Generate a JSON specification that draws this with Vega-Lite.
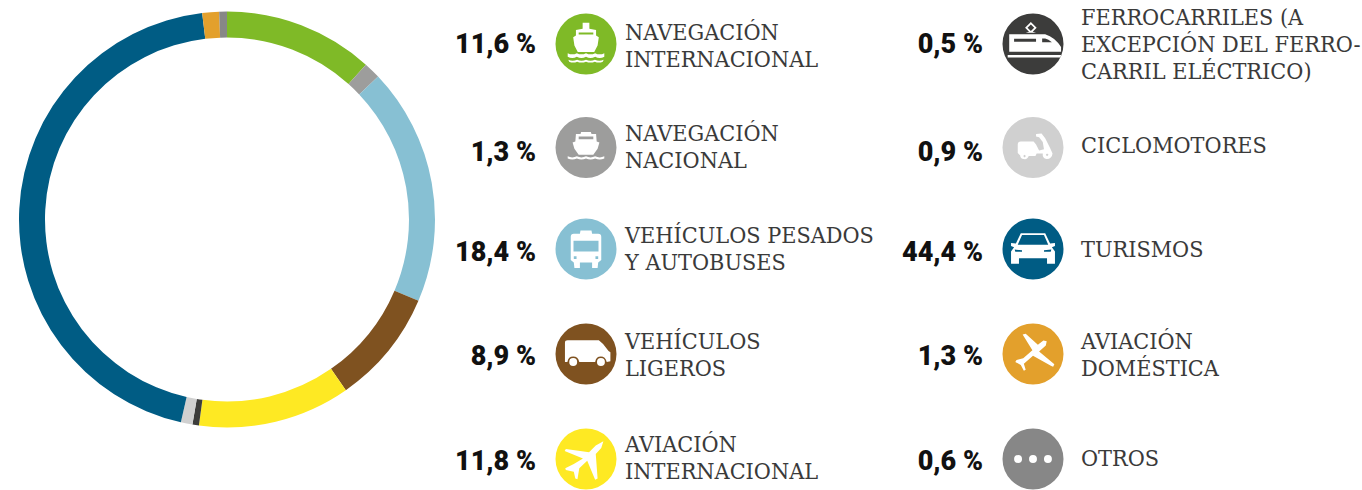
{
"$schema":"https://vega.github.io/schema/vega-lite/v6.json",
"padding":0,"spacing":0,"bounds":"flush","background":"white",
"config":{"view":{"stroke":null},"concat":{"spacing":0}},
"datasets":{"d":[
{"cat":"Navegación internacional","val":11.6,"orden":1,"pct":"11,6 %","label":"NAVEGACIÓN\nINTERNACIONAL","col":1,"fila":1},
{"cat":"Navegación nacional","val":1.3,"orden":2,"pct":"1,3 %","label":"NAVEGACIÓN\nNACIONAL","col":1,"fila":2},
{"cat":"Vehículos pesados","val":18.4,"orden":3,"pct":"18,4 %","label":"VEHÍCULOS PESADOS\nY AUTOBUSES","col":1,"fila":3},
{"cat":"Vehículos ligeros","val":8.9,"orden":4,"pct":"8,9 %","label":"VEHÍCULOS\nLIGEROS","col":1,"fila":4},
{"cat":"Aviación internacional","val":11.8,"orden":5,"pct":"11,8 %","label":"AVIACIÓN\nINTERNACIONAL","col":1,"fila":5},
{"cat":"Ferrocarriles","val":0.5,"orden":6,"pct":"0,5 %","label":"FERROCARRILES (A\nEXCEPCIÓN DEL FERRO-\nCARRIL ELÉCTRICO)","col":2,"fila":1},
{"cat":"Ciclomotores","val":0.9,"orden":7,"pct":"0,9 %","label":"CICLOMOTORES","col":2,"fila":2},
{"cat":"Turismos","val":44.4,"orden":8,"pct":"44,4 %","label":"TURISMOS","col":2,"fila":3},
{"cat":"Aviación doméstica","val":1.3,"orden":9,"pct":"1,3 %","label":"AVIACIÓN\nDOMÉSTICA","col":2,"fila":4},
{"cat":"Otros","val":0.6,"orden":10,"pct":"0,6 %","label":"OTROS","col":2,"fila":5}
]},
"hconcat":[
{"width":454,"height":439,"data":{"name":"d"},
 "mark":{"type":"arc","radius":208,"radius2":182},
 "encoding":{
  "theta":{"field":"val","type":"quantitative","stack":true},
  "order":{"field":"orden","type":"quantitative"},
  "color":{"field":"cat","type":"nominal","legend":null,"sort":null,
   "scale":{"domain":["Navegación internacional","Navegación nacional","Vehículos pesados","Vehículos ligeros","Aviación internacional","Ferrocarriles","Ciclomotores","Turismos","Aviación doméstica","Otros"],
   "range":["#7fba27","#9d9d9c","#87c0d3","#7f5220","#fee923","#3c3c3b","#d0d0d0","#005c84","#e3a02c","#878787"]}}
 }},
{"width":908,"height":490,"data":{"name":"d"},
 "resolve":{"scale":{"y":"independent","x":"shared"}},
 "encoding":{"x":{"field":"col","type":"quantitative","axis":null,"scale":{"domain":[1,2],"range":[132,579],"zero":false,"nice":false}}},
 "layer":[
 {"mark":{"type":"point","filled":true,"opacity":1,"shape":"circle","size":3721},
  "encoding":{
   "y":{"field":"fila","type":"quantitative","axis":null,"scale":{"domain":[1,2,3,4,5],"range":[44,147.5,249,354,459],"zero":false,"nice":false}},
   "color":{"field":"cat","type":"nominal","legend":null,
   "scale":{"domain":["Navegación internacional","Navegación nacional","Vehículos pesados","Vehículos ligeros","Aviación internacional","Ferrocarriles","Ciclomotores","Turismos","Aviación doméstica","Otros"],
   "range":["#7fba27","#9d9d9c","#87c0d3","#7f5220","#fee923","#3c3c3b","#d0d0d0","#005c84","#e3a02c","#878787"]}}}},
 {"mark":{"type":"point","filled":true,"opacity":1,"size":3721,"color":"white","strokeWidth":0},
  "encoding":{
   "y":{"field":"fila","type":"quantitative","axis":null,"scale":{"domain":[1,2,3,4,5],"range":[44,147.5,249,354,459],"zero":false,"nice":false}},
   "shape":{"field":"cat","type":"nominal","legend":null,
   "scale":{"domain":["Navegación internacional","Navegación nacional","Vehículos pesados","Vehículos ligeros","Aviación internacional","Ferrocarriles","Ciclomotores","Turismos","Aviación doméstica","Otros"],
   "range":[
"M-0.11 -0.7 L0.11 -0.7 L0.11 -0.5 L0.33 -0.46 L0.33 -0.28 L0.42 -0.22 L0.38 0.05 L0.27 0.26 L-0.27 0.26 L-0.38 0.05 L-0.42 -0.22 L-0.33 -0.28 L-0.33 -0.46 L-0.11 -0.5 Z M-0.24 -0.38 L-0.24 -0.31 L0.24 -0.31 L0.24 -0.38 Z M-0.6 0.3 Q-0.45 0.38 -0.3 0.3 Q-0.15 0.38 0 0.3 Q0.15 0.38 0.3 0.3 Q0.45 0.38 0.6 0.3 L0.6 0.42 Q0.45 0.5 0.3 0.42 Q0.15 0.5 0 0.42 Q-0.15 0.5 -0.3 0.42 Q-0.45 0.5 -0.6 0.42 Z M-0.58 0.52 Q-0.44 0.58 -0.29 0.52 Q-0.15 0.58 0 0.52 Q0.15 0.58 0.29 0.52 Q0.44 0.58 0.58 0.52 L0.55 0.58 Q0.42 0.64 0.29 0.58 Q0.15 0.64 0 0.58 Q-0.15 0.64 -0.29 0.58 Q-0.42 0.64 -0.55 0.58 Z",
"M-0.16 -0.51 L0.16 -0.51 L0.18 -0.44 L0.33 -0.44 L0.35 -0.2 L0.44 -0.16 L0.38 0.04 L0.24 0.24 L-0.24 0.24 L-0.38 0.04 L-0.44 -0.16 L-0.35 -0.2 L-0.33 -0.44 L-0.18 -0.44 Z M-0.24 -0.36 L-0.24 -0.27 L0.24 -0.27 L0.24 -0.36 Z M-0.6 0.29 Q-0.45 0.36 -0.3 0.29 Q-0.15 0.36 0 0.29 Q0.15 0.36 0.3 0.29 Q0.45 0.36 0.6 0.29 L0.6 0.36 Q0.45 0.43 0.3 0.36 Q0.15 0.43 0 0.36 Q-0.15 0.43 -0.3 0.36 Q-0.45 0.43 -0.6 0.36 Z",
"M-0.18 -0.61 L0.18 -0.61 L0.2 -0.5 L0.4 -0.5 Q0.5 -0.5 0.5 -0.4 L0.5 0.36 L0.4 0.44 L0.38 0.62 L0.2 0.62 L0.2 0.44 L-0.2 0.44 L-0.2 0.62 L-0.38 0.62 L-0.4 0.44 L-0.5 0.36 L-0.5 -0.4 Q-0.5 -0.5 -0.4 -0.5 L-0.2 -0.5 Z M-0.41 -0.27 L-0.41 0.08 L0.41 0.08 L0.41 -0.27 Z M-0.4 0.24 L-0.4 0.33 L-0.31 0.33 L-0.31 0.24 Z M0.31 0.24 L0.31 0.33 L0.4 0.33 L0.4 0.24 Z",
"M-0.6 -0.45 L0.42 -0.45 L0.56 -0.33 L0.74 -0.1 L0.8 -0.06 L0.8 0.24 L0.68 0.26 Q0.63 0.08 0.49 0.08 Q0.33 0.08 0.3 0.26 L-0.22 0.26 Q-0.26 0.08 -0.42 0.08 Q-0.58 0.08 -0.61 0.26 L-0.69 0.26 L-0.69 -0.37 Q-0.69 -0.45 -0.6 -0.45 Z M-0.42 0.13 Q-0.29 0.13 -0.29 0.26 Q-0.29 0.39 -0.42 0.39 Q-0.55 0.39 -0.55 0.26 Q-0.55 0.13 -0.42 0.13 Z M0.49 0.13 Q0.62 0.13 0.62 0.26 Q0.62 0.39 0.49 0.39 Q0.36 0.39 0.36 0.26 Q0.36 0.13 0.49 0.13 Z",
"M0.57 -0.58 L0.5 -0.36 L0.32 -0.16 L0.38 0.64 L0.3 0.68 L0.04 0.06 L-0.22 0.3 L-0.28 0.66 L-0.35 0.64 L-0.4 0.42 L-0.66 0.36 L-0.68 0.3 L-0.4 0.16 L-0.1 -0.02 L-0.7 -0.26 L-0.66 -0.33 L0.1 -0.22 L0.32 -0.44 Z",
"M-0.78 -0.32 L0.4 -0.32 Q0.72 -0.22 0.92 0.1 L0.92 0.25 L-0.78 0.25 Z M-0.62 -0.17 L-0.62 -0.07 L0.1 -0.07 L0.1 -0.17 Z M0.3 -0.18 L0.3 -0.06 L0.62 -0.06 Q0.5 -0.16 0.4 -0.18 Z M-0.83 0.36 L0.92 0.36 L0.9 0.44 L-0.83 0.44 Z M-0.07 -0.72 L0.12 -0.53 L-0.01 -0.4 L0.1 -0.37 L-0.24 -0.37 L-0.13 -0.4 L-0.26 -0.53 Z M-0.07 -0.64 L-0.18 -0.53 L-0.07 -0.43 L0.04 -0.53 Z",
"M0.1 -0.44 L0.28 -0.46 L0.4 -0.3 L0.56 0.02 L0.64 0.2 Q0.62 0.38 0.45 0.38 Q0.3 0.36 0.32 0.2 L0.12 0.2 L0.08 0.28 L-0.14 0.28 Q-0.18 0.4 -0.3 0.38 Q-0.42 0.36 -0.42 0.26 L-0.5 0.18 L-0.5 -0.1 Q-0.5 -0.2 -0.4 -0.2 L0.02 -0.2 L0.1 -0.1 L0.2 0.1 L0.36 0.06 L0.32 -0.18 L0.2 -0.34 L0.1 -0.36 Z M0.46 0.2 L0.42 0.24 L0.46 0.29 L0.51 0.24 Z M-0.28 0.24 L-0.32 0.28 L-0.28 0.33 L-0.23 0.28 Z",
"M-0.4 -0.52 L0.4 -0.52 L0.56 -0.18 L0.72 -0.2 L0.72 -0.1 L0.62 -0.06 L0.72 0.08 L0.72 0.48 L0.46 0.48 L0.46 0.3 L-0.46 0.3 L-0.46 0.48 L-0.72 0.48 L-0.72 0.08 L-0.62 -0.06 L-0.72 -0.1 L-0.72 -0.2 L-0.56 -0.18 Z M-0.36 -0.46 L-0.5 -0.14 L0.5 -0.14 L0.36 -0.46 Z M-0.6 0.02 L-0.58 0.09 L-0.36 0.09 L-0.36 0.04 Z M0.6 0.02 L0.36 0.04 L0.36 0.09 L0.58 0.09 Z",
"M0.45 -0.42 L0.42 -0.28 L0.2 -0.08 L0.7 0.34 L0.66 0.42 L0.6 0.39 L0 0.06 L-0.3 0.32 L-0.24 0.52 L-0.3 0.55 L-0.4 0.36 L-0.58 0.26 L-0.54 0.2 L-0.32 0.14 L-0.02 -0.12 L-0.34 -0.64 L-0.24 -0.66 L0.16 -0.3 L0.34 -0.44 Z",
"M-0.62 0 Q-0.62 -0.13 -0.49 -0.13 Q-0.36 -0.13 -0.36 0 Q-0.36 0.13 -0.49 0.13 Q-0.62 0.13 -0.62 0 Z M-0.13 0 Q-0.13 -0.13 0 -0.13 Q0.13 -0.13 0.13 0 Q0.13 0.13 0 0.13 Q-0.13 0.13 -0.13 0 Z M0.36 0 Q0.36 -0.13 0.49 -0.13 Q0.62 -0.13 0.62 0 Q0.62 0.13 0.49 0.13 Q0.36 0.13 0.36 0 Z"
   ]}}}},
 {"mark":{"type":"text","align":"right","baseline":"middle","dx":-50,"font":"Roboto","fontWeight":900,"fontSize":27,"color":"#111111"},
  "encoding":{
   "y":{"field":"fila","type":"quantitative","axis":null,"scale":{"domain":[1,2,3,4,5],"range":[45,153,253,357,462],"zero":false,"nice":false}},
   "text":{"field":"pct","type":"nominal"}}},
 {"transform":[{"filter":"datum.col==1"}],
  "mark":{"type":"text","align":"left","baseline":"middle","dx":39,"font":"DejaVu Serif Condensed","fontSize":23.2,"lineHeight":27,"lineBreak":"\n","color":"#3a3a3a"},
  "encoding":{
   "y":{"field":"fila","type":"quantitative","axis":null,"scale":{"domain":[1,2,3,4,5],"range":[33,134,236,342,445],"zero":false,"nice":false}},
   "text":{"field":"label","type":"nominal"}}},
 {"transform":[{"filter":"datum.col==2"}],
  "mark":{"type":"text","align":"left","baseline":"middle","dx":48,"font":"DejaVu Serif Condensed","fontSize":23.2,"lineHeight":27,"lineBreak":"\n","color":"#3a3a3a"},
  "encoding":{
   "y":{"field":"fila","type":"quantitative","axis":null,"scale":{"domain":[1,2,3,4,5],"range":[18,146,250,342,459],"zero":false,"nice":false}},
   "text":{"field":"label","type":"nominal"}}}
 ]}
]}
